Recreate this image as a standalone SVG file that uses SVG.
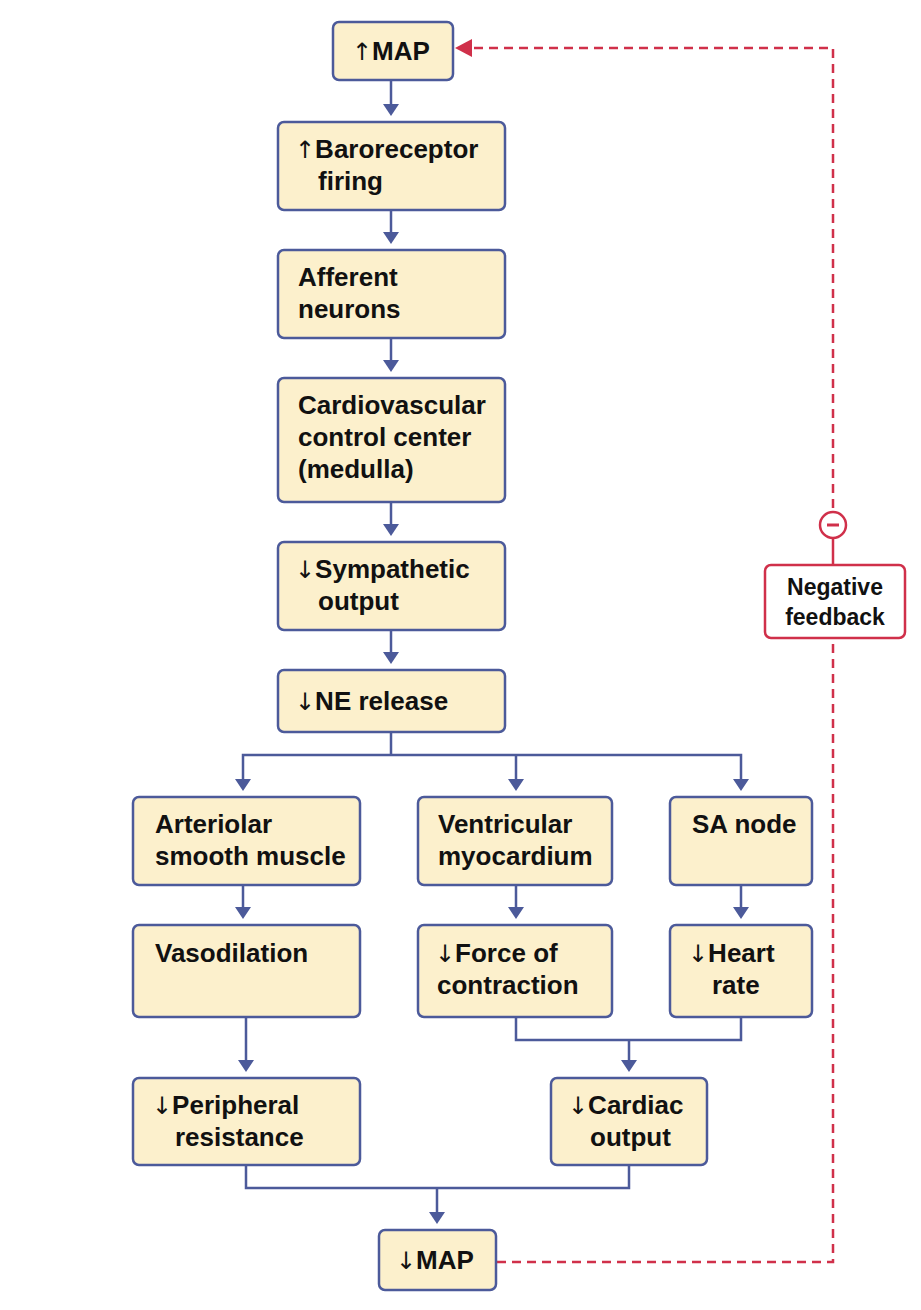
<svg xmlns="http://www.w3.org/2000/svg" width="921" height="1310" viewBox="0 0 921 1310">
<style>
.b{fill:#fcf0cc;stroke:#4c5a9a;stroke-width:2.5}
.t{font-family:"Liberation Sans",Arial,sans-serif;font-weight:bold;font-size:26px;fill:#111}
.w{font-family:"DejaVu Sans",sans-serif;font-weight:normal;font-size:24px}
.c{fill:none;stroke:#4c5a9a;stroke-width:2.5}
.r{fill:none;stroke:#d0304a;stroke-width:2.5;stroke-dasharray:9 6}
</style>
<g id="connectors">
<path class="c" d="M391,80V104"/><path d="M383,104h16l-8,12z" fill="#4c5a9a"/>
<path class="c" d="M391,210V232"/><path d="M383,232h16l-8,12z" fill="#4c5a9a"/>
<path class="c" d="M391,338V360"/><path d="M383,360h16l-8,12z" fill="#4c5a9a"/>
<path class="c" d="M391,502V524"/><path d="M383,524h16l-8,12z" fill="#4c5a9a"/>
<path class="c" d="M391,630V652"/><path d="M383,652h16l-8,12z" fill="#4c5a9a"/>
<path class="c" d="M391,732V755M243,779V755H741V779M516,755V779"/>
<path d="M235,779h16l-8,12z M508,779h16l-8,12z M733,779h16l-8,12z" fill="#4c5a9a"/>
<path class="c" d="M243,885V907M516,885V907M741,885V907"/>
<path d="M235,907h16l-8,12z M508,907h16l-8,12z M733,907h16l-8,12z" fill="#4c5a9a"/>
<path class="c" d="M246,1017V1060M516,1017V1040H741V1017M629,1040V1060"/>
<path d="M238,1060h16l-8,12z M621,1060h16l-8,12z" fill="#4c5a9a"/>
<path class="c" d="M246,1165V1188H629V1165M437,1188V1212"/>
<path d="M429,1212h16l-8,12z" fill="#4c5a9a"/>
<path class="r" d="M497,1262H833V640M833,538V48H470"/>
<path d="M472,39L455,48L472,57z" fill="#d0304a"/>
<path d="M833,538V565" stroke="#d0304a" stroke-width="2.5"/>
</g>
<g id="map1"><rect class="b" x="333" y="22" width="120" height="58" rx="6"/><text class="t" x="352" y="60"><tspan class="w">↑</tspan>MAP</text></g>
<g id="baro"><rect class="b" x="278" y="122" width="227" height="88" rx="6"/><text class="t" x="295" y="158"><tspan class="w">↑</tspan>Baroreceptor</text><text class="t" x="318" y="190">firing</text></g>
<g id="aff"><rect class="b" x="278" y="250" width="227" height="88" rx="6"/><text class="t" x="298" y="286">Afferent</text><text class="t" x="298" y="318">neurons</text></g>
<g id="cvcc"><rect class="b" x="278" y="378" width="227" height="124" rx="6"/><text class="t" x="298" y="414">Cardiovascular</text><text class="t" x="298" y="446">control center</text><text class="t" x="298" y="478">(medulla)</text></g>
<g id="symp"><rect class="b" x="278" y="542" width="227" height="88" rx="6"/><text class="t" x="295" y="578"><tspan class="w">↓</tspan>Sympathetic</text><text class="t" x="318" y="610">output</text></g>
<g id="ne"><rect class="b" x="278" y="670" width="227" height="62" rx="6"/><text class="t" x="295" y="710"><tspan class="w">↓</tspan>NE release</text></g>
<g id="art"><rect class="b" x="133" y="797" width="227" height="88" rx="6"/><text class="t" x="155" y="833">Arteriolar</text><text class="t" x="155" y="865">smooth muscle</text></g>
<g id="vent"><rect class="b" x="418" y="797" width="194" height="88" rx="6"/><text class="t" x="438" y="833">Ventricular</text><text class="t" x="438" y="865">myocardium</text></g>
<g id="sa"><rect class="b" x="670" y="797" width="142" height="88" rx="6"/><text class="t" x="692" y="833">SA node</text></g>
<g id="vaso"><rect class="b" x="133" y="925" width="227" height="92" rx="6"/><text class="t" x="155" y="962">Vasodilation</text></g>
<g id="force"><rect class="b" x="418" y="925" width="194" height="92" rx="6"/><text class="t" x="435" y="962"><tspan class="w">↓</tspan>Force of</text><text class="t" x="437" y="994">contraction</text></g>
<g id="hr"><rect class="b" x="670" y="925" width="142" height="92" rx="6"/><text class="t" x="688" y="962"><tspan class="w">↓</tspan>Heart</text><text class="t" x="712" y="994">rate</text></g>
<g id="pr"><rect class="b" x="133" y="1078" width="227" height="87" rx="6"/><text class="t" x="152" y="1114"><tspan class="w">↓</tspan>Peripheral</text><text class="t" x="175" y="1146">resistance</text></g>
<g id="co"><rect class="b" x="551" y="1078" width="156" height="87" rx="6"/><text class="t" x="568" y="1114"><tspan class="w">↓</tspan>Cardiac</text><text class="t" x="590" y="1146">output</text></g>
<g id="map2"><rect class="b" x="379" y="1230" width="117" height="60" rx="6"/><text class="t" x="396" y="1269"><tspan class="w">↓</tspan>MAP</text></g>
<g id="neg">
<circle cx="833" cy="525" r="13" fill="#fff" stroke="#d0304a" stroke-width="2.5"/><path d="M827,525h12" stroke="#d0304a" stroke-width="3"/>
<rect x="765" y="565" width="140" height="73" rx="6" fill="#fff" stroke="#d0304a" stroke-width="2.5"/>
<text class="t" x="835" y="595" text-anchor="middle" style="font-size:23px">Negative</text><text class="t" x="835" y="625" text-anchor="middle" style="font-size:23px">feedback</text>
</g>
</svg>
